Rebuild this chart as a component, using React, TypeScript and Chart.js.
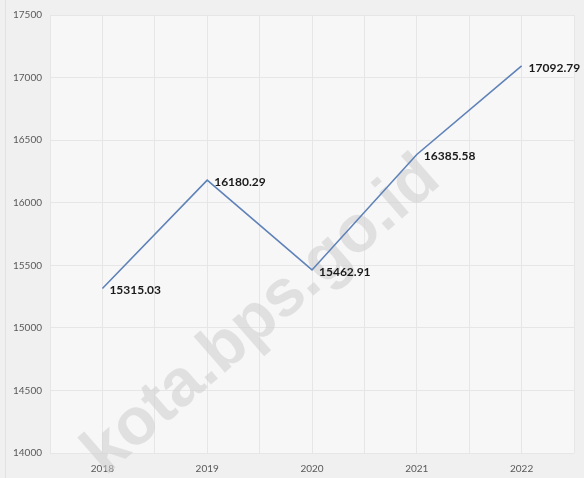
import React, { useEffect, useRef } from "react";
import { Chart, registerables } from "chart.js";

Chart.register(...registerables);

const years = ["2018", "2019", "2020", "2021", "2022"];
const values = [15315.03, 16180.29, 15462.91, 16385.58, 17092.79];
const yMin = 14000;
const yMax = 17500;
const yStep = 500;
const watermark = "kota.bps.go.id";

const bgPlugin = {
  id: "bgPlugin",
  beforeDraw(chart: any) {
    const { ctx, chartArea } = chart;
    ctx.save();
    ctx.fillStyle = "#f0f0f0";
    ctx.fillRect(0, 0, chart.width, chart.height);
    ctx.fillStyle = "#f7f7f7";
    ctx.fillRect(chartArea.left, chartArea.top, chartArea.right - chartArea.left, chartArea.bottom - chartArea.top);
    ctx.strokeStyle = "#e2e2e2";
    ctx.lineWidth = 1;
    ctx.beginPath();
    ctx.moveTo(5.5, 0);
    ctx.lineTo(5.5, chart.height);
    ctx.stroke();
    ctx.restore();
  },
};

const watermarkPlugin = {
  id: "watermarkPlugin",
  beforeDatasetsDraw(chart: any) {
    const { ctx } = chart;
    ctx.save();
    ctx.translate(262, 316);
    ctx.rotate((-41 * Math.PI) / 180);
    ctx.font = "bold 66px 'Liberation Sans', Arial, sans-serif";
    ctx.fillStyle = "rgba(205,205,205,0.55)";
    ctx.textAlign = "center";
    ctx.textBaseline = "middle";
    ctx.fillText(watermark, 0, 0);
    ctx.restore();
  },
};

const labelPlugin = {
  id: "labelPlugin",
  afterDatasetsDraw(chart: any) {
    const { ctx } = chart;
    const meta = chart.getDatasetMeta(0);
    ctx.save();
    ctx.font = "bold 12px Lato, 'Open Sans', sans-serif";
    ctx.fillStyle = "#1a1a1a";
    ctx.textAlign = "left";
    ctx.textBaseline = "middle";
    meta.data.forEach((pt: any, i: number) => {
      ctx.fillText(values[i].toFixed(2), pt.x + 7, pt.y + 2);
    });
    ctx.restore();
  },
};

export default function App() {
  const ref = useRef<HTMLCanvasElement>(null);
  useEffect(() => {
    if (!ref.current) return;
    const chart = new Chart(ref.current, {
      type: "line",
      data: {
        datasets: [
          {
            data: years.map((y, i) => ({ x: Number(y), y: values[i] })),
            borderColor: "#5f82b8",
            borderWidth: 1.6,
            pointRadius: 0,
            tension: 0,
            fill: false,
          },
        ],
      },
      options: {
        animation: false,
        responsive: false,
        devicePixelRatio: 1,
        layout: { padding: { left: 0, right: 6, top: 15, bottom: 0 } },
        plugins: { legend: { display: false }, tooltip: { enabled: false } },
        scales: {
          x: {
            type: "linear",
            min: 2017.5,
            max: 2022.5,
            afterBuildTicks: (axis: any) => {
              const t = [];
              for (let v = 2017.5; v <= 2022.51; v += 0.5) t.push({ value: v });
              axis.ticks = t;
            },
            afterFit: (axis: any) => {
              axis.height = 25;
            },
            grid: { color: "#e6e6e6", drawTicks: false, lineWidth: 1 },
            border: { display: false },
            ticks: {
              autoSkip: false,
              maxRotation: 0,
              padding: 10,
              color: "#595959",
              font: { family: "Lato, 'Open Sans', sans-serif", size: 10 },
              callback: (v: any) => {
                const n = Number(v);
                const idx = years.indexOf(String(n));
                return Number.isInteger(n) && idx >= 0 ? years[idx] : "";
              },
            },
          },
          y: {
            min: yMin,
            max: yMax,
            afterFit: (axis: any) => {
              axis.width = 50;
            },
            grid: { color: "#e6e6e6", drawTicks: false, lineWidth: 1 },
            border: { display: false },
            ticks: {
              stepSize: yStep,
              padding: 8,
              color: "#595959",
              font: { family: "Lato, 'Open Sans', sans-serif", size: 10 },
              callback: (v: any) => String(v),
            },
          },
        },
      } as any,
      plugins: [bgPlugin, watermarkPlugin, labelPlugin],
    });
    return () => chart.destroy();
  }, []);
  return (
    <div style={{ position: "fixed", left: 0, top: 0, width: 584, height: 478, background: "#f0f0f0" }}>
      <canvas ref={ref} width={584} height={478} style={{ display: "block", width: 584, height: 478 }} />
    </div>
  );
}
